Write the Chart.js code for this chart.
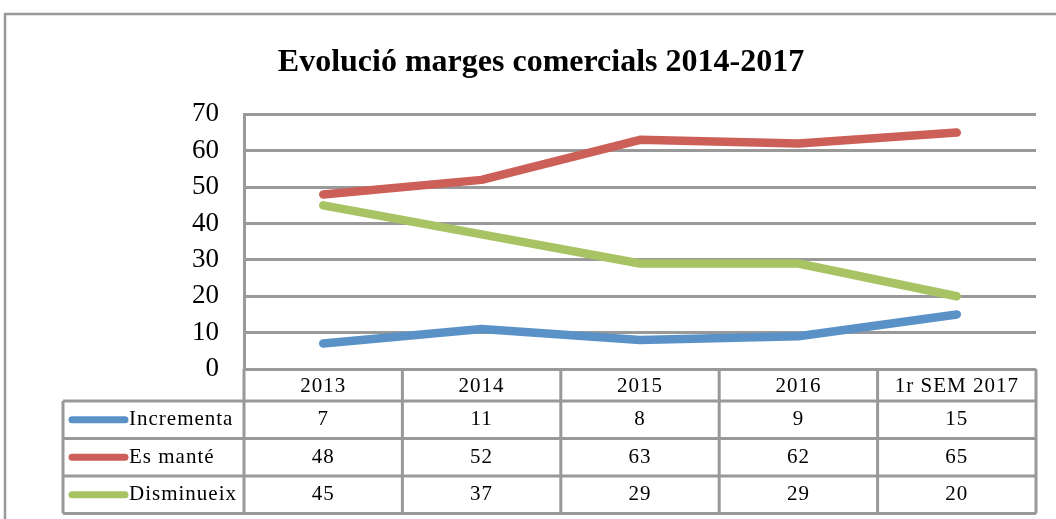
<!DOCTYPE html>
<html>
<head>
<meta charset="utf-8">
<script src="https://cdn.jsdelivr.net/npm/chart.js@4/dist/chart.umd.min.js"></script>
<style>
  body { margin: 0; background: #fff; }
</style>
</head>
<body>
<canvas id="marginsChart" width="1056" height="519"></canvas>
<script>
// data
const categories = ['2013', '2014', '2015', '2016', '1r SEM 2017'];
const seriesNames = ['Incrementa', 'Es manté', 'Disminueix'];
const incrementa = [7, 11, 8, 9, 15];
const esMante = [48, 52, 63, 62, 65];
const disminueix = [45, 37, 29, 29, 20];
const yTicks = [0, 10, 20, 30, 40, 50, 60, 70];

const seriesColors = ['#5a92c8', '#cc5f58', '#a8c363'];
const gridColor = '#999999';
const serif = "'Liberation Serif', 'Times New Roman', serif";

// draws the frame and the data table under the plot
const tablePlugin = {
    id: 'dataTable',
    afterDraw(chart) {
        let ctx = chart.ctx;
        let area = chart.chartArea;
        let xScale = chart.scales.x;
        let half = (area.right - area.left) / categories.length / 2;

        let top = area.bottom;
        let headBottom = top + 32;
        let rowH = 37.5;
        let bottom = headBottom + rowH * 3;
        let legendLeft = 63;

        ctx.save();
        ctx.strokeStyle = gridColor;
        ctx.lineCap = 'butt';

        // outer frame
        ctx.beginPath();
        ctx.moveTo(5, chart.height);
        ctx.lineTo(5, 14);
        ctx.lineTo(chart.width, 14);
        ctx.lineWidth = 2.5;
        ctx.stroke();
        ctx.lineWidth = 3;

        ctx.beginPath();
        // axis line continues down through the table
        ctx.moveTo(area.left, top);
        ctx.lineTo(area.left, bottom);
        for (let i = 0; i < categories.length; i++) {
            let xr = xScale.getPixelForValue(i) + half;
            ctx.moveTo(xr, top);
            ctx.lineTo(xr, bottom);
        }
        ctx.moveTo(legendLeft, headBottom);
        ctx.lineTo(legendLeft, bottom);
        for (let r = 0; r <= 3; r++) {
            let y = headBottom + r * rowH;
            ctx.moveTo(legendLeft, y);
            ctx.lineTo(area.right, y);
        }
        ctx.stroke();

        ctx.fillStyle = '#000';
        ctx.font = '21px ' + serif;
        ctx.letterSpacing = '1px';
        ctx.textBaseline = 'middle';

        // header row
        ctx.textAlign = 'center';
        categories.forEach((c, i) => {
            ctx.fillText(c, xScale.getPixelForValue(i), (top + headBottom) / 2 + 1);
        });

        // one row per series
        chart.data.datasets.forEach((ds, r) => {
            let yc = headBottom + rowH * r + rowH / 2;
            ctx.strokeStyle = ds.borderColor;
            ctx.lineWidth = 7;
            ctx.lineCap = 'round';
            ctx.beginPath();
            ctx.moveTo(72, yc);
            ctx.lineTo(125, yc);
            ctx.stroke();

            ctx.textAlign = 'left';
            ctx.fillText(ds.label, 129, yc);
            ctx.textAlign = 'center';
            ds.data.forEach((v, i) => {
                ctx.fillText(String(v), xScale.getPixelForValue(i), yc);
            });
        });
        ctx.restore();
    }
};

const seriesData = [incrementa, esMante, disminueix];

let ctx = document.getElementById('marginsChart').getContext('2d');

let marginsChart = new Chart(ctx, {
    type: 'line',
    data: {
        labels: categories,
        datasets: seriesNames.map((name, i) => ({
            label: name,
            data: seriesData[i],
            borderColor: seriesColors[i],
            backgroundColor: seriesColors[i],
            borderWidth: 8.5,
            borderCapStyle: 'round',
            borderJoinStyle: 'round',
            pointRadius: 0,
            pointHoverRadius: 0,
            tension: 0,
            fill: false
        }))
    },
    options: {
        responsive: false,
        animation: false,
        layout: {
            padding: { left: 46, right: 20, top: 0, bottom: 150 }
        },
        plugins: {
            legend: { display: false },
            tooltip: { enabled: false },
            title: {
                display: true,
                text: 'Evolució marges comercials 2014-2017',
                color: '#000',
                font: { family: serif, size: 32, weight: 'bold', lineHeight: 1.2 },
                padding: { top: 44, bottom: 32 }
            }
        },
        scales: {
            x: {
                type: 'category',
                offset: true,
                grid: { display: false },
                border: { display: false },
                ticks: { display: false },
                afterFit: (scale) => {
                    scale.height = 0;
                }
            },
            y: {
                min: 0,
                max: 70,
                afterBuildTicks: (scale) => {
                    scale.ticks = yTicks.map(v => ({ value: v }));
                },
                afterFit: (scale) => {
                    scale.width = 198;
                },
                grid: {
                    color: gridColor,
                    lineWidth: 3,
                    drawTicks: false
                },
                border: { display: true, color: gridColor, width: 3 },
                ticks: {
                    color: '#000',
                    padding: 25,
                    font: { family: serif, size: 27 }
                }
            }
        }
    },
    plugins: [tablePlugin]
});
</script>
</body>
</html>
